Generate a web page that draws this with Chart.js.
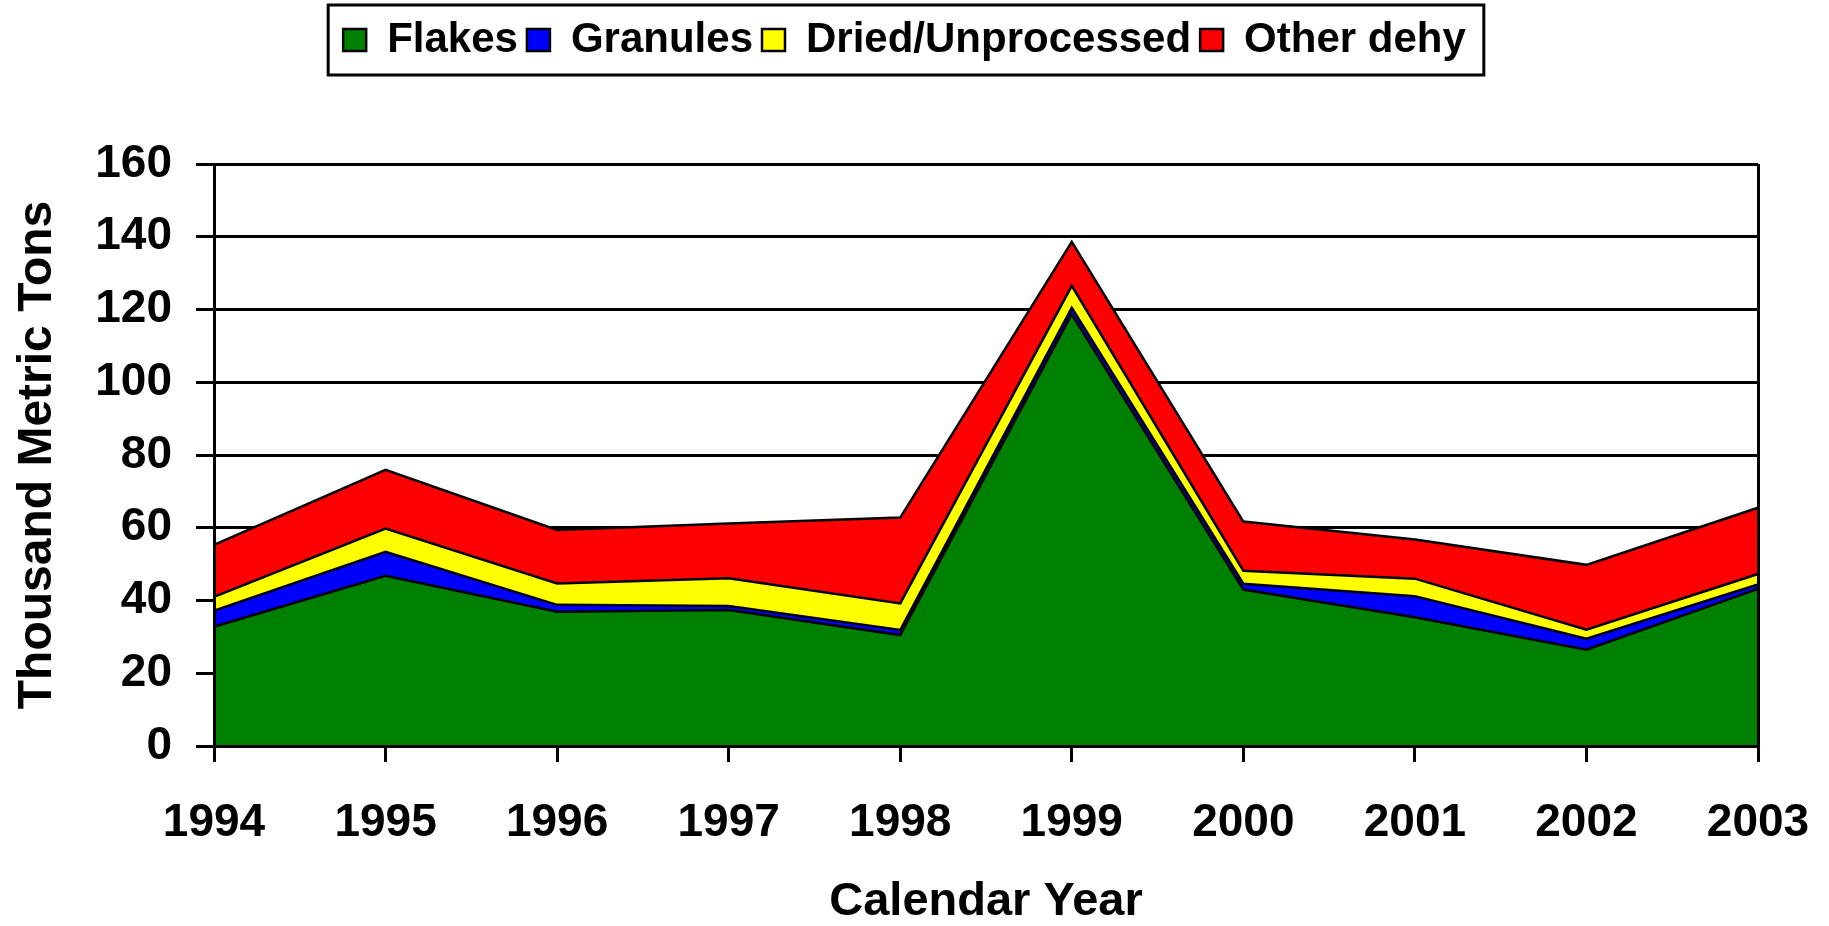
<!DOCTYPE html>
<html>
<head>
    <meta charset="utf-8">
    <title>Dehydrated imports by type</title>
    <style>
        html, body {
            margin: 0;
            padding: 0;
            background: #fff;
        }
        #chart-container {
            width: 1829px;
            height: 926px;
        }
    </style>
</head>
<body>
    <div id="chart-container">
        <canvas id="myChart" width="1829" height="926" style="width:1829px;height:926px;"></canvas>
    </div>
    <script src="https://cdn.jsdelivr.net/npm/chart.js"></script>
    <script>
        // Data (thousand metric tons)
        const years = ['1994', '1995', '1996', '1997', '1998', '1999', '2000', '2001', '2002', '2003'];
        const flakes = [32.8, 46.8, 36.9, 37.4, 30.5, 118.7, 43.0, 35.4, 26.5, 43.2];
        const granules = [4.4, 6.6, 1.9, 1.1, 1.4, 1.8, 1.6, 5.8, 3.0, 1.2];
        const dried = [3.8, 6.4, 5.9, 7.6, 7.3, 6.0, 3.6, 4.8, 2.5, 2.9];
        const otherDehy = [14.3, 16.1, 14.7, 15.1, 23.6, 12.1, 13.5, 10.8, 17.8, 18.2];
        const yTicks = [0, 20, 40, 60, 80, 100, 120, 140, 160];

        Chart.defaults.font.family = "'Liberation Sans', Arial, sans-serif";
        Chart.defaults.font.weight = 'bold';
        Chart.defaults.color = '#000';

        function series(label, values, color, fill) {
            return {
                label: label,
                data: values,
                backgroundColor: color,
                borderColor: '#000',
                borderWidth: 2.5,
                pointRadius: 0,
                tension: 0,
                fill: fill
            };
        }

        // legend gets a black frame, and a fixed height so the plot starts where it should
        const legendFrame = {
            id: 'legendFrame',
            beforeLayout(chart) {
                const lg = chart.legend;
                if (lg && !lg._fixed) {
                    const fit = lg.fit;
                    lg.fit = function () {
                        fit.call(this);
                        this.height = 164;
                    };
                    lg._fixed = true;
                }
            },
            afterLayout(chart) {
                const lg = chart.legend;
                lg.left -= 10;
                lg.right -= 10;
                lg.top += 10;
                lg.bottom += 10;
            },
            afterDraw(chart) {
                const hb = chart.legend.legendHitBoxes;
                if (!hb || !hb.length) return;
                const first = hb[0];
                const last = hb[hb.length - 1];
                const cy = first.top + first.height / 2;
                const ctx = chart.ctx;
                ctx.save();
                ctx.lineWidth = 3;
                ctx.strokeStyle = '#000';
                ctx.strokeRect(first.left - 15, cy - 35, last.left + last.width - first.left + 33, 70);
                ctx.restore();
            }
        };

        const ctx = document.getElementById('myChart').getContext('2d');
        const myChart = new Chart(ctx, {
            type: 'line',
            data: {
                labels: years,
                datasets: [
                    series('Flakes', flakes, '#008000', 'origin'),
                    series('Granules', granules, '#0000ff', '-1'),
                    series('Dried/Unprocessed', dried, '#ffff00', '-1'),
                    series('Other dehy', otherDehy, '#ff0000', '-1')
                ]
            },
            options: {
                responsive: false,
                animation: false,
                layout: { padding: 0 },
                plugins: {
                    legend: {
                        position: 'top',
                        labels: {
                            boxWidth: 23,
                            boxHeight: 22,
                            padding: 9,
                            color: '#000',
                            font: { size: 42, weight: 'bold' }
                        }
                    },
                    tooltip: { enabled: false }
                },
                scales: {
                    x: {
                        offset: false,
                        grid: {
                            color: c => c.index === years.length - 1 ? '#000' : 'rgba(0,0,0,0)',
                            lineWidth: 3,
                            tickColor: '#000',
                            tickLength: 16,
                            z: 1
                        },
                        border: { color: '#000', width: 3, z: 1 },
                        ticks: {
                            color: '#000',
                            font: { size: 46, weight: 'bold' },
                            padding: 34,
                            maxRotation: 0,
                            autoSkip: false
                        },
                        title: {
                            display: true,
                            text: 'Calendar Year',
                            color: '#000',
                            font: { size: 47, weight: 'bold', lineHeight: 1 },
                            padding: { top: 0, bottom: 0 }
                        },
                        afterFit(s) {
                            s.height = 180;
                            s.paddingRight = 71;
                        }
                    },
                    y: {
                        stacked: true,
                        min: 0,
                        max: 160,
                        afterBuildTicks(s) { s.ticks = yTicks.map(v => ({ value: v })); },
                        grid: { color: '#000', lineWidth: 3, tickColor: '#000', tickLength: 18 },
                        border: { color: '#000', width: 3, z: 1 },
                        ticks: {
                            color: '#000',
                            font: { size: 46, weight: 'bold' },
                            padding: 24
                        },
                        title: {
                            display: true,
                            text: 'Thousand Metric Tons',
                            color: '#000',
                            font: { size: 48, weight: 'bold', lineHeight: 1.2 },
                            padding: { top: 9, bottom: 0 }
                        },
                        afterFit(s) { s.width = 214; }
                    }
                }
            },
            plugins: [legendFrame]
        });
    </script>
</body>
</html>
